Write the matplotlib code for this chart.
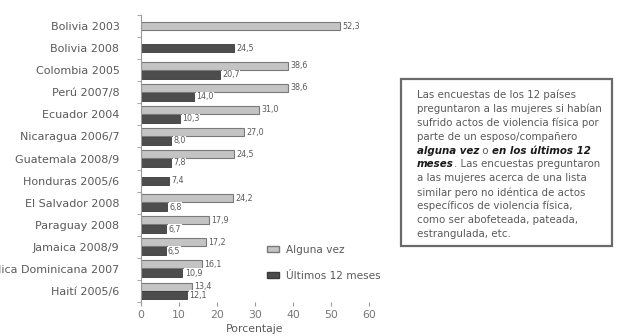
import numpy as np
import matplotlib.pyplot as plt
from matplotlib.patches import Patch

plt.rcParams['font.family'] = ['DejaVu Sans']

paises = ['Bolivia 2003', 'Bolivia 2008', 'Colombia 2005', 'Perú 2007/8',
          'Ecuador 2004', 'Nicaragua 2006/7', 'Guatemala 2008/9',
          'Honduras 2005/6', 'El Salvador 2008', 'Paraguay 2008',
          'Jamaica 2008/9', 'República Dominicana 2007', 'Haití 2005/6']
alguna_vez = [52.3, np.nan, 38.6, 38.6, 31.0, 27.0, 24.5,
              np.nan, 24.2, 17.9, 17.2, 16.1, 13.4]
ultimos_12 = [np.nan, 24.5, 20.7, 14.0, 10.3, 8.0, 7.8,
              7.4, 6.8, 6.7, 6.5, 10.9, 12.1]

gris_txt = '#5a5a5a'
claro = '#c4c4c4'
oscuro = '#4d4d4d'

fig = plt.figure(figsize=(6.26, 3.36), dpi=100)
ax = fig.add_axes([141/626, 1-302/336, (369-141)/626, 287/336])

h = 0.36
for i, (a, u) in enumerate(zip(alguna_vez, ultimos_12)):
    ambos = not (np.isnan(a) or np.isnan(u))
    if not np.isnan(a):
        y = i - 0.2 if ambos else i
        ax.barh(y, a, height=h, color=claro, edgecolor='#7a7a7a', linewidth=0.8)
        ax.text(a + 0.6, y, f'{a:.1f}'.replace('.', ','), va='center', ha='left',
                fontsize=5.8, color=gris_txt,
                bbox=dict(fc='white', ec='none', pad=0.3))
    if not np.isnan(u):
        y = i + 0.2 if ambos else i
        ax.barh(y, u, height=h, color=oscuro, edgecolor='#3a3a3a', linewidth=0.6)
        ax.text(u + 0.6, y, f'{u:.1f}'.replace('.', ','), va='center', ha='left',
                fontsize=5.8, color=gris_txt,
                bbox=dict(fc='white', ec='none', pad=0.3))

ax.set_ylim(len(paises) - 0.5, -0.5)
ax.set_xlim(0, 60)
ax.set_yticks(range(len(paises)))
ax.set_yticklabels(paises, fontsize=8, color=gris_txt)
ax.tick_params(axis='y', length=0, pad=15.5)
ax.set_yticks(np.arange(-0.5, len(paises), 1), minor=True)
ax.tick_params(axis='y', which='minor', length=3, color='#999999')
ax.set_xticks(range(0, 61, 10))
ax.tick_params(axis='x', length=3, color='#999999', labelsize=7.8,
               labelcolor='#777777', pad=3)
for s in ['top', 'right', 'bottom']:
    ax.spines[s].set_visible(False)
ax.spines['left'].set_color('#999999')
ax.spines['left'].set_linewidth(0.8)
ax.set_xlabel('Porcentaje', fontsize=7.8, color=gris_txt, labelpad=3)

handles = [Patch(facecolor=claro, edgecolor='#7a7a7a', label='Alguna vez'),
           Patch(facecolor=oscuro, edgecolor='#3a3a3a', label='Últimos 12 meses')]
leg = ax.legend(handles=handles, loc='lower left', bbox_to_anchor=(0.51, 0.04),
                frameon=False, fontsize=7.6, handlelength=1.2, handleheight=0.5,
                labelspacing=1.5, handletextpad=0.6)
for t in leg.get_texts():
    t.set_color(gris_txt)

# recuadro de texto
caja = plt.Rectangle((401/626, 1-246/336), (612-401)/626, (246-79)/336,
                     transform=fig.transFigure, fill=False,
                     edgecolor='#6a6a6a', linewidth=1.6)
fig.patches.append(caja)

lineas = [
    [('Las encuestas de los 12 países', 'n')],
    [('preguntaron a las mujeres si habían', 'n')],
    [('sufrido actos de violencia física por', 'n')],
    [('parte de un esposo/compañero', 'n')],
    [('alguna vez', 'b'), (' o ', 'n'), ('en los últimos 12', 'b')],
    [('meses', 'b'), ('. Las encuestas preguntaron', 'n')],
    [('a las mujeres acerca de una lista', 'n')],
    [('similar pero no idéntica de actos', 'n')],
    [('específicos de violencia física,', 'n')],
    [('como ser abofeteada, pateada,', 'n')],
    [('estrangulada, etc.', 'n')],
]
fs = 7.4
for k, partes in enumerate(lineas):
    y = 1 - (95 + 13.9 * k) / 336
    prev = None
    for txt, estilo in partes:
        kw = dict(fontsize=fs, color=gris_txt)
        if estilo == 'b':
            kw = dict(fontsize=fs, color='#1a1a1a', fontweight='bold', fontstyle='italic')
        if prev is None:
            prev = fig.text(417/626, y, txt, ha='left', va='center', **kw)
        else:
            prev = ax.annotate(txt, xy=(1, 0), xycoords=prev, ha='left',
                               va='bottom', annotation_clip=False, **kw)

fig.savefig('out.png', dpi=100)
